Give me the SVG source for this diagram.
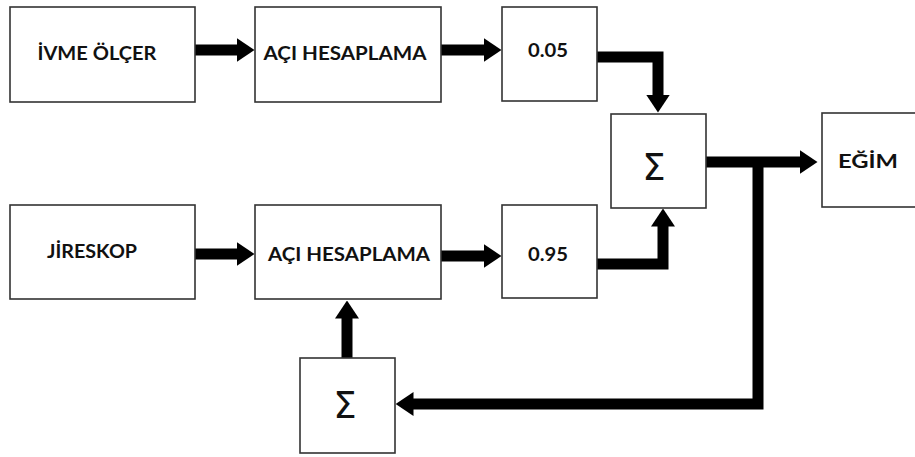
<svg xmlns="http://www.w3.org/2000/svg" width="915" height="457" viewBox="0 0 915 457">
<style>
.box{fill:#fff;stroke:#333;stroke-width:1.6}
.lbl{font-family:Lato,"Open Sans","Liberation Sans",sans-serif;font-weight:bold;font-size:19px;fill:#111;text-anchor:middle}
.sig{font-family:"DejaVu Sans","Liberation Sans",sans-serif;font-size:37px;fill:#111;text-anchor:middle}
.con{fill:none;stroke:#000;stroke-width:11;stroke-linejoin:miter}
</style>
<defs>
<marker id="ah" viewBox="0 0 18 24" markerWidth="18" markerHeight="24" markerUnits="userSpaceOnUse" refX="0.5" refY="12" orient="auto">
<path d="M0,0 L18,12 L0,24 z" fill="#000"/>
</marker>
</defs>
<rect width="915" height="457" fill="#fff"/>
<g id="connectors">
<path class="con" d="M195,50 H237" marker-end="url(#ah)"/>
<path class="con" d="M441,50 H484" marker-end="url(#ah)"/>
<path class="con" d="M597,57 H658 V95" marker-end="url(#ah)"/>
<path class="con" d="M706,162 H800" marker-end="url(#ah)"/>
<path class="con" d="M758,162 V404 H413" marker-end="url(#ah)"/>
<path class="con" d="M195,254 H237" marker-end="url(#ah)"/>
<path class="con" d="M441,256 H484" marker-end="url(#ah)"/>
<path class="con" d="M597,264 H663 V226" marker-end="url(#ah)"/>
<path class="con" d="M347,358 V318" marker-end="url(#ah)"/>
</g>
<g id="ivme"><rect class="box" x="10" y="7" width="185" height="95"/><text class="lbl" x="97" y="60" textLength="119" lengthAdjust="spacingAndGlyphs">İVME ÖLÇER</text></g>
<g id="aci1"><rect class="box" x="255" y="7" width="186" height="95"/><text class="lbl" x="345" y="60" textLength="163" lengthAdjust="spacingAndGlyphs">AÇI HESAPLAMA</text></g>
<g id="k005"><rect class="box" x="502" y="7" width="95" height="94"/><text class="lbl" x="548" y="57" textLength="40" lengthAdjust="spacingAndGlyphs">0.05</text></g>
<g id="sum1"><rect class="box" x="611" y="114" width="95" height="94"/><text class="sig" x="654" y="180">Σ</text></g>
<g id="egim"><rect class="box" x="822" y="113" width="100" height="94"/><text class="lbl" x="868" y="168" textLength="60" lengthAdjust="spacingAndGlyphs">EĞİM</text></g>
<g id="jireskop"><rect class="box" x="10" y="205" width="185" height="94"/><text class="lbl" x="92" y="258" textLength="90" lengthAdjust="spacingAndGlyphs">JİRESKOP</text></g>
<g id="aci2"><rect class="box" x="255" y="205" width="186" height="94"/><text class="lbl" x="349" y="261" textLength="162" lengthAdjust="spacingAndGlyphs">AÇI HESAPLAMA</text></g>
<g id="k095"><rect class="box" x="502" y="205" width="95" height="93"/><text class="lbl" x="548" y="261" textLength="40" lengthAdjust="spacingAndGlyphs">0.95</text></g>
<g id="sum2"><rect class="box" x="300" y="358" width="95" height="95"/><text class="sig" x="345" y="418">Σ</text></g>
</svg>
